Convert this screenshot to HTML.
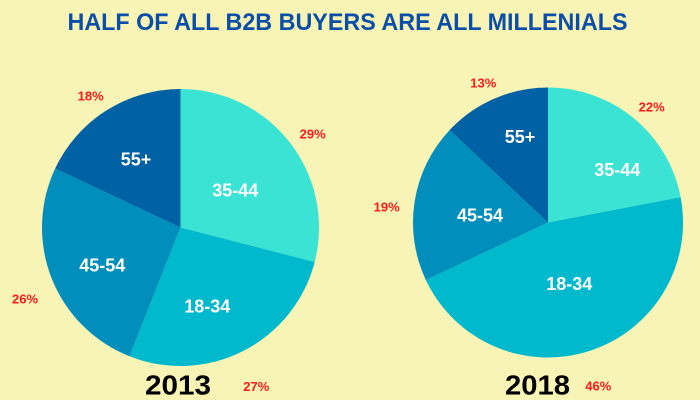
<!DOCTYPE html>
<html>
<head>
<meta charset="utf-8">
<style>
html,body{margin:0;padding:0;background:#f7f4b6;}
svg{display:block;}
text{font-family:"Liberation Sans",sans-serif;font-weight:bold;}
</style>
</head>
<body>
<svg width="700" height="400" viewBox="0 0 700 400" xmlns="http://www.w3.org/2000/svg">
<rect width="700" height="400" fill="#f7f4b6"/>
<text x="347.5" y="30" text-anchor="middle" font-size="24" fill="#0a4ea9" textLength="560" lengthAdjust="spacingAndGlyphs">HALF OF ALL B2B BUYERS ARE ALL MILLENIALS</text>

<!-- Pie 2013 -->
<g>
<path d="M180.5,227.5 L180.5,89 A138.5,138.5 0 0 1 314.65,261.94 Z" fill="#3be3d4"/>
<path d="M180.5,227.5 L314.65,261.94 A138.5,138.5 0 0 1 129.52,356.27 Z" fill="#00b9cd"/>
<path d="M180.5,227.5 L129.52,356.27 A138.5,138.5 0 0 1 55.18,168.53 Z" fill="#008fbc"/>
<path d="M180.5,227.5 L55.18,168.53 A138.5,138.5 0 0 1 180.5,89 Z" fill="#0061a4"/>
</g>
<g fill="#ffffff" font-size="18" text-anchor="middle">
<text x="136" y="165.5">55+</text>
<text x="235.3" y="196.5">35-44</text>
<text x="102.3" y="271.5">45-54</text>
<text x="207.3" y="312.5">18-34</text>
</g>

<!-- Pie 2018 -->
<g>
<path d="M548,222.5 L548,87.5 A135,135 0 0 1 680.61,197.2 Z" fill="#3be3d4"/>
<path d="M548,222.5 L680.61,197.2 A135,135 0 0 1 425.85,279.98 Z" fill="#00b9cd"/>
<path d="M548,222.5 L425.85,279.98 A135,135 0 0 1 449.59,130.09 Z" fill="#008fbc"/>
<path d="M548,222.5 L449.59,130.09 A135,135 0 0 1 548,87.5 Z" fill="#0061a4"/>
</g>
<g fill="#ffffff" font-size="18" text-anchor="middle">
<text x="520" y="143">55+</text>
<text x="617.3" y="175.8">35-44</text>
<text x="480" y="221.5">45-54</text>
<text x="569.3" y="289.8">18-34</text>
</g>

<!-- Percent labels -->
<g fill="#ff1a1a" font-size="13" text-anchor="middle">
<text x="90.7" y="100.4">18%</text>
<text x="312.7" y="138.7">29%</text>
<text x="25" y="303.7">26%</text>
<text x="256.3" y="391">27%</text>
<text x="483.3" y="87.4">13%</text>
<text x="651.7" y="111.4">22%</text>
<text x="386.7" y="211.4">19%</text>
<text x="598.3" y="390.7">46%</text>
</g>

<!-- Years -->
<g fill="#000000" font-size="28" text-anchor="middle">
<text x="178" y="394.3" textLength="66" lengthAdjust="spacingAndGlyphs">2013</text>
<text x="537.5" y="394.3" textLength="65" lengthAdjust="spacingAndGlyphs">2018</text>
</g>
</svg>
</body>
</html>
